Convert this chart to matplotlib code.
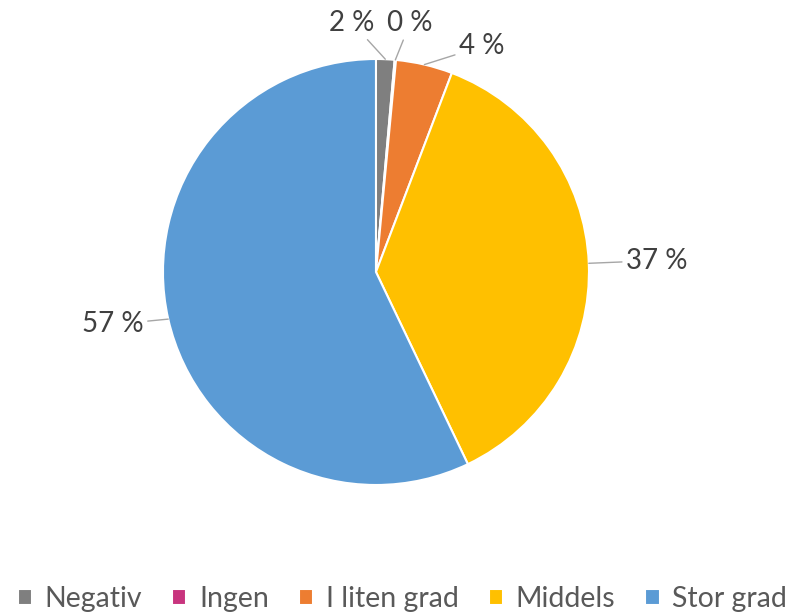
import matplotlib.pyplot as plt
import numpy as np

categories = ['Negativ', 'Ingen', 'I liten grad', 'Middels', 'Stor grad']
values = [1.4, 0.1, 4.3, 37.1, 57.1]
labels = ['2 %', '0 %', '4 %', '37 %', '57 %']
colors = ['#7f7f7f', '#c8347e', '#ed7d31', '#ffc000', '#5b9bd5']

plt.rcParams['font.family'] = ['Lato', 'DejaVu Sans']

fig = plt.figure(figsize=(7.89, 6.13), dpi=100)
ax = fig.add_axes([0, 0, 1, 1])

wedges, _ = ax.pie(values, colors=colors, startangle=90, counterclock=False,
                   radius=1, center=(0, 0),
                   wedgeprops=dict(edgecolor='white', linewidth=1.5))

# label spots (radius, angle offset in degrees) for each slice
label_pos = [(1.175, 8), (1.18, -2.6), (1.17, -12), (1.32, 0), (1.26, -1.5)]
line_color = '#a6a6a6'
for w, lab, (r, off) in zip(wedges, labels, label_pos):
    ang = np.deg2rad((w.theta1 + w.theta2) / 2)
    tip = (np.cos(ang), np.sin(ang))
    ang2 = ang + np.deg2rad(off)
    txt = (r * np.cos(ang2), r * np.sin(ang2))
    ax.annotate(lab, xy=tip, xytext=txt, ha='center', va='center',
                fontsize=20, color='#404040',
                arrowprops=dict(arrowstyle='-', color=line_color, lw=1,
                                shrinkA=1, shrinkB=0))

ax.set_aspect('equal')
ax.set_xlim(-1.765, 1.939)
ax.set_ylim(-1.601, 1.277)
ax.axis('off')

fig.legend(wedges, categories, loc='lower center', ncol=5, frameon=False,
           bbox_to_anchor=(0.51, -0.04), fontsize=20.5, labelcolor='#595959',
           handlelength=0.5, handleheight=0.5, handletextpad=0.45,
           columnspacing=1.05)

fig.savefig('out.png', dpi=100)
